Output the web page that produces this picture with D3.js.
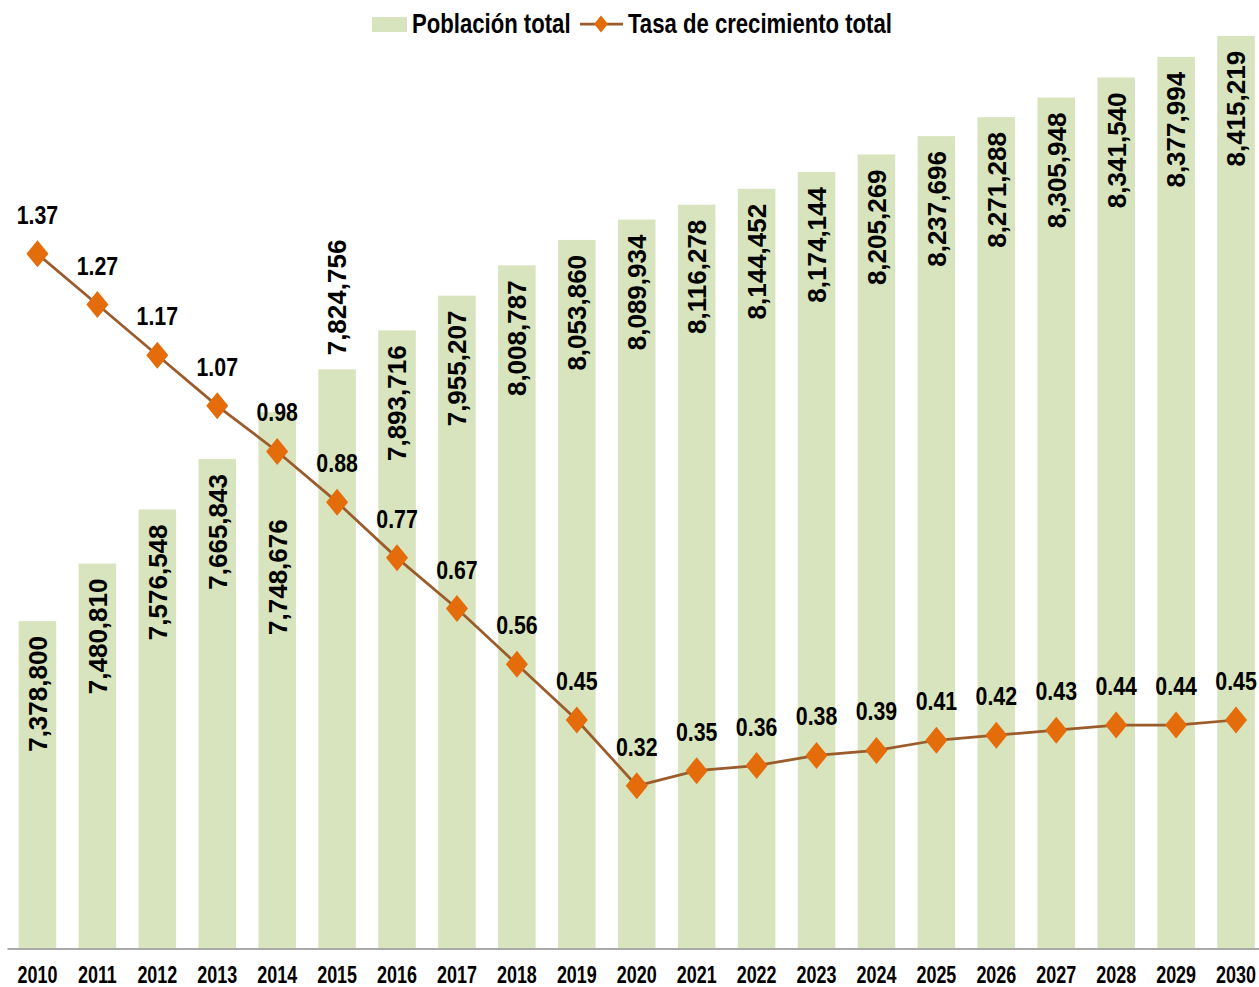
<!DOCTYPE html>
<html>
<head>
<meta charset="utf-8">
<script src="https://cdn.jsdelivr.net/npm/d3@7"></script>
<style>
  body { margin: 0; background: white; }
</style>
</head>
<body>
<div id="chart"></div>
<script>
var years = ["2010", "2011", "2012", "2013", "2014", "2015", "2016", "2017", "2018", "2019", "2020",
  "2021", "2022", "2023", "2024", "2025", "2026", "2027", "2028", "2029", "2030"];
var poblacion = [7378800, 7480810, 7576548, 7665843, 7748676, 7824756, 7893716, 7955207, 8008787, 8053860, 8089934,
  8116278, 8144452, 8174144, 8205269, 8237696, 8271288, 8305948, 8341540, 8377994, 8415219];
var tasa = [1.37, 1.27, 1.17, 1.07, 0.98, 0.88, 0.77, 0.67, 0.56, 0.45, 0.32,
  0.35, 0.36, 0.38, 0.39, 0.41, 0.42, 0.43, 0.44, 0.44, 0.45];
var seriesNames = ["Población total", "Tasa de crecimiento total"];

var svgWidth = 1259;
var svgHeight = 987;
var font = "'Liberation Sans', Arial, sans-serif";
var squeeze = 0.82; // horizontal text looks like Arial Narrow in the original

var barColor = "#d7e4bd";
var lineColor = "#9c5b2b";
var markerColor = "#e46c0a";

var svg = d3.select("#chart")
  .append("svg")
  .attr("width", svgWidth)
  .attr("height", svgHeight);

var data = years.map(function(y, i) {
  return { year: y, pob: poblacion[i], tasa: tasa[i] };
});

// plot area runs a bit past the right edge, like the original
var x = d3.scaleBand()
  .domain(years)
  .range([7.5, 1266])
  .paddingInner(0.374)
  .paddingOuter(0.187);

var yBar = d3.scaleLinear()
  .domain([6800000, 8415000])
  .range([948, 36]);

var yLine = d3.scaleLinear()
  .domain([0, 1.8])
  .range([948, 36]);

var fmt = d3.format(",");
var cx = d => x(d.year) + x.bandwidth() / 2;

// bars
svg.selectAll("rect.bar")
  .data(data)
  .enter()
  .append("rect")
  .attr("class", "bar")
  .attr("x", d => x(d.year))
  .attr("y", d => yBar(d.pob))
  .attr("width", x.bandwidth())
  .attr("height", d => yBar.range()[0] - yBar(d.pob))
  .attr("fill", barColor);

// x axis
var xAxis = svg.append("g")
  .attr("transform", "translate(0,949)")
  .call(d3.axisBottom(x).tickSize(0).tickPadding(0));
xAxis.select(".domain").attr("d", "M7.5,0H1266").attr("stroke", "#8c8c8c").attr("stroke-width", 1.5);
xAxis.selectAll("text")
  .attr("y", 0)
  .attr("dy", 0)
  .attr("transform", "translate(0,33.5) scale(0.78,1)")
  .attr("font-family", font)
  .attr("font-weight", "bold")
  .attr("font-size", "23px")
  .attr("fill", "#000");

// bar labels, rotated, inside end; two were moved by hand in the original
var labelMove = { "2014": 92 };
svg.selectAll("text.barLabel")
  .data(data)
  .enter()
  .append("text")
  .attr("class", "barLabel")
  .attr("transform", function(d) {
    var top = yBar(d.pob);
    var ty = d.year === "2015" ? top - 14 : top + 15 + (labelMove[d.year] || 0);
    return "translate(" + cx(d) + "," + ty + ") rotate(-90)";
  })
  .attr("text-anchor", d => d.year === "2015" ? "start" : "end")
  .attr("dy", "0.36em")
  .attr("font-family", font)
  .attr("font-weight", "bold")
  .attr("font-size", "26px")
  .attr("fill", "#000")
  .text(d => fmt(d.pob));

// line
var line = d3.line()
  .x(cx)
  .y(d => yLine(d.tasa));

svg.append("path")
  .datum(data)
  .attr("d", line)
  .attr("fill", "none")
  .attr("stroke", lineColor)
  .attr("stroke-width", 2.75);

function diamond(w, h) {
  return "M0," + (-h / 2) + "L" + (w / 2) + ",0L0," + (h / 2) + "L" + (-w / 2) + ",0Z";
}

svg.selectAll("path.marker")
  .data(data)
  .enter()
  .append("path")
  .attr("class", "marker")
  .attr("transform", d => "translate(" + cx(d) + "," + yLine(d.tasa) + ")")
  .attr("d", diamond(22, 27))
  .attr("fill", markerColor);

svg.selectAll("text.lineLabel")
  .data(data)
  .enter()
  .append("text")
  .attr("class", "lineLabel")
  .attr("transform", d => "translate(" + cx(d) + "," + (yLine(d.tasa) - 30) + ") scale(" + squeeze + ",1)")
  .attr("text-anchor", "middle")
  .attr("font-family", font)
  .attr("font-weight", "bold")
  .attr("font-size", "26px")
  .attr("fill", "#000")
  .text(d => d.tasa.toFixed(2));

// legend
var legend = svg.append("g");
legend.append("rect")
  .attr("x", 372)
  .attr("y", 17)
  .attr("width", 35)
  .attr("height", 15)
  .attr("fill", barColor);
legend.append("text")
  .attr("transform", "translate(412,33) scale(" + squeeze + ",1)")
  .attr("font-family", font)
  .attr("font-weight", "bold")
  .attr("font-size", "27px")
  .text(seriesNames[0]);
legend.append("line")
  .attr("x1", 580)
  .attr("x2", 623)
  .attr("y1", 24)
  .attr("y2", 24)
  .attr("stroke", lineColor)
  .attr("stroke-width", 2.75);
legend.append("path")
  .attr("transform", "translate(601,24)")
  .attr("d", diamond(14, 17))
  .attr("fill", markerColor);
legend.append("text")
  .attr("transform", "translate(628,33) scale(" + squeeze + ",1)")
  .attr("font-family", font)
  .attr("font-weight", "bold")
  .attr("font-size", "27px")
  .text(seriesNames[1]);
</script>
</body>
</html>
